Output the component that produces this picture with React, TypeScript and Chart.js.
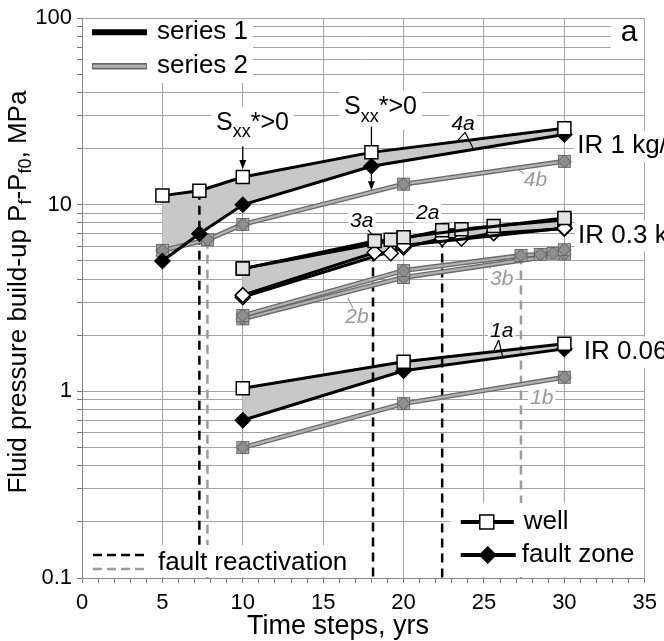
import React, { useEffect, useRef } from 'react';
import { Chart, registerables } from 'chart.js';

Chart.register(...registerables);

const FONT = '"Liberation Sans", Arial, Helvetica, sans-serif';
const font = (size: number, style = '') => `${style} ${size}px ${FONT}`.trim();

// ---------- axes ----------
const X_MIN = 0;
const X_MAX = 35;
const X_TICKS = [0, 1, 2, 3, 4, 5, 6, 7, 8, 9, 10, 11, 12, 13, 14, 15, 16, 17, 18, 19, 20, 21, 22, 23, 24, 25, 26, 27, 28, 29, 30, 31, 32, 33, 34, 35];
const X_TICK_LABELS = ['0', '5', '10', '15', '20', '25', '30', '35'];
const Y_MIN = 0.1;
const Y_MAX = 100;
const Y_TICKS = [0.1, 0.2, 0.3, 0.4, 0.5, 0.6, 0.7, 0.8, 0.9, 1, 2, 3, 4, 5, 6, 7, 8, 9, 10, 20, 30, 40, 50, 60, 70, 80, 90, 100];
const Y_TICK_LABELS = ['0.1', '1', '10', '100'];
const X_TITLE = 'Time steps, yrs';

// ---------- data: IR 1 kg/s ----------
const T_4A_WELL = [5, 7.3, 10, 18, 30];
const P_4A_WELL = [11.2, 11.9, 14.1, 19.1, 25.7];
const T_4A_FAULT = [5, 7.3, 10, 18, 30];
const P_4A_FAULT = [5.0, 7.0, 10.0, 16.1, 23.8];
const T_4B = [5, 7.8, 10, 20, 30];
const P_4B = [5.7, 6.5, 7.85, 12.9, 17.1];

// ---------- data: IR 0.3 kg/s ----------
const T_3A = [10, 18.2, 19.2, 20, 30];
const P_3A_WELL = [4.55, 6.4, 6.5, 6.7, 8.5];
const P_3A_FAULT = [3.28, 5.55, 5.5, 6.05, 7.5];
const T_2A = [10, 20, 22.4, 23.6, 25.6, 30];
const P_2A_WELL = [4.55, 6.6, 7.3, 7.4, 7.7, 8.3];
const P_2A_FAULT = [3.2, 5.9, 6.6, 6.6, 7.05, 7.45];
const T_3B = [10, 20, 27.3, 28.5, 29.3, 30];
const P_3B = [2.55, 4.44, 5.35, 5.42, 5.5, 5.75];
const T_2B = [10, 20, 30];
const P_2B = [2.45, 4.08, 5.45];

// ---------- data: IR 0.06 kg/s ----------
const T_1 = [10, 20, 30];
const P_1A_WELL = [1.04, 1.44, 1.8];
const P_1A_FAULT = [0.7, 1.29, 1.69];
const P_1B = [0.5, 0.86, 1.19];

// ---------- fault reactivation (time, value where the line starts) ----------
const REACT_BLACK_T = [7.3, 18.1, 22.4];
const REACT_BLACK_P = [11.9, 5.55, 6.6];
const REACT_GRAY_T = [7.8, 27.3];
const REACT_GRAY_P = [6.5, 5.35];

// ---------- annotation texts ----------
const CURVE_LABELS = ['4a', '4b', '3a', '2a', '3b', '2b', '1a', '1b'];
const IR_LABELS = ['IR 1 kg/s', 'IR 0.3 kg/s', 'IR 0.06 kg/s'];
const LEGEND_SERIES = ['series 1', 'series 2'];
const LEGEND_MARKERS = ['well', 'fault zone'];
const LEGEND_REACT = 'fault reactivation';
const PANEL = 'a';

// annotation anchors in data coordinates (t, value)
const CURVE_LABEL_AT = [
  [23.7, 27.0], [28.2, 13.6], [17.4, 8.2], [21.5, 9.07],
  [26.1, 3.99], [17.1, 2.5], [26.1, 2.11], [28.6, 0.918],
];
const CURVE_LABEL_GRAY = [false, true, false, false, true, true, false, true];
// leader strokes, pixel offsets from label centre
const CURVE_LEADERS: number[][][] = [
  [[2, 8, -6, 17], [2, 8, 10, 24]],
  [[-11, -6, -18, -11]],
  [[6, 9, 13, 16]],
  [[9, 12, 15, 18]],
  [[-11, -11, -16, -17]],
  [[-4, -9, -9, -19]],
  [[-3, 9, -8, 20], [-3, 9, 1, 26]],
  [],
];
const IR_AT = [[30.8, 20.6], [30.85, 6.84], [31.2, 1.63]];
const SXX_AT = [[10.6, 27.3], [18.56, 33.2]];
const SXX_ARROW_T = [10, 18];

const GRID = '#a3a3a3';
const FILL = '#c8c8c8';
const S2_DARK = '#6b6b6b';
const S2_LIGHT = '#b3b3b3';

const pts = (t: number[], p: number[]) => t.map((x, i) => ({ x, y: p[i] }));

function makeS2Marker() {
  const c = document.createElement('canvas');
  c.width = 15;
  c.height = 15;
  const g = c.getContext('2d')!;
  g.fillStyle = '#a8a8a8';
  g.strokeStyle = '#6a6a6a';
  g.lineWidth = 1;
  g.fillRect(1.5, 1.5, 12, 12);
  g.strokeRect(1.5, 1.5, 12, 12);
  g.beginPath();
  g.moveTo(7.5, 1);
  g.lineTo(14, 7.5);
  g.lineTo(7.5, 14);
  g.lineTo(1, 7.5);
  g.closePath();
  g.fillStyle = '#8f8f8f';
  g.fill();
  g.strokeStyle = '#555';
  g.stroke();
  return c;
}

function s1(t: number[], p: number[], style: string, bg: string, r: number) {
  return {
    data: pts(t, p),
    showLine: true,
    borderColor: '#000',
    borderWidth: 3,
    pointStyle: style,
    pointRadius: r,
    pointHoverRadius: r,
    pointBackgroundColor: bg,
    pointBorderColor: '#000',
    pointBorderWidth: 1.5,
    fill: false,
  };
}

function s2(t: number[], p: number[], marker: HTMLCanvasElement) {
  return {
    data: pts(t, p),
    showLine: true,
    borderColor: S2_LIGHT,
    borderWidth: 2.2,
    pointStyle: marker,
    pointRadius: 7,
    pointHoverRadius: 7,
    fill: false,
    outline: S2_DARK,
    outlineWidth: 5,
  };
}

function whiteBox(ctx: CanvasRenderingContext2D, x: number, y: number, w: number, h: number) {
  ctx.fillStyle = '#fff';
  ctx.fillRect(x, y, w, h);
}

function drawText(ctx: CanvasRenderingContext2D, s: string, x: number, y: number, f: string, color = '#000', align: CanvasTextAlign = 'left') {
  ctx.font = f;
  ctx.fillStyle = color;
  ctx.textAlign = align;
  ctx.textBaseline = 'middle';
  ctx.fillText(s, x, y);
}

function line(ctx: CanvasRenderingContext2D, x0: number, y0: number, x1: number, y1: number, color: string, w: number, dash: number[] = []) {
  ctx.save();
  ctx.strokeStyle = color;
  ctx.lineWidth = w;
  ctx.setLineDash(dash);
  ctx.beginPath();
  ctx.moveTo(x0, y0);
  ctx.lineTo(x1, y1);
  ctx.stroke();
  ctx.restore();
}

function square(ctx: CanvasRenderingContext2D, x: number, y: number, half: number, bg: string) {
  ctx.fillStyle = bg;
  ctx.fillRect(x - half, y - half, 2 * half, 2 * half);
  ctx.strokeStyle = '#000';
  ctx.lineWidth = 1.5;
  ctx.strokeRect(x - half, y - half, 2 * half, 2 * half);
}

function diamond(ctx: CanvasRenderingContext2D, x: number, y: number, r: number, bg: string) {
  ctx.beginPath();
  ctx.moveTo(x, y - r);
  ctx.lineTo(x + r, y);
  ctx.lineTo(x, y + r);
  ctx.lineTo(x - r, y);
  ctx.closePath();
  ctx.fillStyle = bg;
  ctx.fill();
  ctx.strokeStyle = '#000';
  ctx.lineWidth = 1.5;
  ctx.stroke();
}

function drawSxx(ctx: CanvasRenderingContext2D, cx: number, cy: number) {
  const big = font(25);
  const small = font(18);
  ctx.font = big;
  const wS = ctx.measureText('S').width;
  const wR = ctx.measureText('*>0').width;
  ctx.font = small;
  const wX = ctx.measureText('xx').width;
  const total = wS + wX + wR;
  whiteBox(ctx, cx - total / 2 - 5, cy - 17, total + 10, 39);
  let x = cx - total / 2;
  drawText(ctx, 'S', x, cy, big);
  x += wS;
  drawText(ctx, 'xx', x, cy + 9, small);
  x += wX;
  drawText(ctx, '*>0', x, cy, big);
}

function arrowDown(ctx: CanvasRenderingContext2D, x: number, y0: number, y1: number) {
  line(ctx, x, y0, x, y1 - 7, '#000', 1.3);
  ctx.beginPath();
  ctx.moveTo(x - 3.5, y1 - 9);
  ctx.lineTo(x + 3.5, y1 - 9);
  ctx.lineTo(x, y1);
  ctx.closePath();
  ctx.fillStyle = '#000';
  ctx.fill();
}

const FILL_PAIRS = [[0, 1], [2, 3], [4, 5], [6, 7]];

const overlay = {
  id: 'overlay',
  beforeDraw(chart: any) {
    const { ctx, width, height } = chart;
    ctx.save();
    ctx.fillStyle = '#fff';
    ctx.fillRect(0, 0, width, height);
    ctx.restore();
  },
  beforeDatasetsDraw(chart: any) {
    const { ctx, chartArea: ca, scales } = chart;
    const X = (t: number) => scales.x.getPixelForValue(t);
    const Y = (p: number) => scales.y.getPixelForValue(p);
    ctx.save();

    // gray bands between well and fault-zone curves
    FILL_PAIRS.forEach(([a, b]) => {
      const A = chart.getDatasetMeta(a).data;
      const B = chart.getDatasetMeta(b).data;
      ctx.beginPath();
      A.forEach((e: any, i: number) => (i ? ctx.lineTo(e.x, e.y) : ctx.moveTo(e.x, e.y)));
      for (let i = B.length - 1; i >= 0; i--) ctx.lineTo(B[i].x, B[i].y);
      ctx.closePath();
      ctx.fillStyle = FILL;
      ctx.fill();
    });

    // fault reactivation lines
    REACT_BLACK_T.forEach((t, i) => line(ctx, X(t), Y(REACT_BLACK_P[i]), X(t), ca.bottom, '#000', 2.5, [9, 6]));
    REACT_GRAY_T.forEach((t, i) => line(ctx, X(t), Y(REACT_GRAY_P[i]), X(t), ca.bottom, '#9c9c9c', 2.5, [9, 6]));

    // ---- legend: series 1 / series 2 (top-left)
    whiteBox(ctx, ca.left + 1, ca.top + 1, 170, 64);
    line(ctx, ca.left + 10, ca.top + 14, ca.left + 65, ca.top + 14, '#000', 6);
    line(ctx, ca.left + 10, ca.top + 48, ca.left + 65, ca.top + 48, S2_DARK, 6.5);
    line(ctx, ca.left + 11, ca.top + 48, ca.left + 64, ca.top + 48, S2_LIGHT, 3);
    drawText(ctx, LEGEND_SERIES[0], ca.left + 75, ca.top + 14, font(26));
    drawText(ctx, LEGEND_SERIES[1], ca.left + 75, ca.top + 48, font(26));

    // ---- panel letter
    whiteBox(ctx, ca.right - 34, ca.top + 1, 33, 35);
    drawText(ctx, PANEL, ca.right - 24, ca.top + 15, font(30));

    // ---- legend: fault reactivation (bottom-left)
    whiteBox(ctx, ca.left + 1, ca.bottom - 33, 282, 32);
    line(ctx, ca.left + 11, ca.bottom - 23, ca.left + 63, ca.bottom - 23, '#000', 2.5, [9, 5]);
    line(ctx, ca.left + 11, ca.bottom - 9, ca.left + 63, ca.bottom - 9, '#9c9c9c', 2.5, [9, 5]);
    drawText(ctx, LEGEND_REACT, ca.left + 76, ca.bottom - 15, font(26));

    // ---- legend: well / fault zone (bottom-right)
    whiteBox(ctx, ca.right - 194, ca.bottom - 75, 193, 74);
    const lx = ca.right - 184;
    line(ctx, lx, ca.bottom - 56, lx + 53, ca.bottom - 56, '#000', 4);
    square(ctx, lx + 26, ca.bottom - 56, 7, '#fff');
    line(ctx, lx, ca.bottom - 23, lx + 55, ca.bottom - 23, '#000', 4);
    diamond(ctx, lx + 27, ca.bottom - 23, 8, '#000');
    drawText(ctx, LEGEND_MARKERS[0], lx + 63, ca.bottom - 56, font(26));
    drawText(ctx, LEGEND_MARKERS[1], lx + 61, ca.bottom - 23, font(26));

    // ---- IR labels
    IR_AT.forEach(([t, p], i) => {
      const x = X(t);
      const y = Y(p);
      ctx.font = font(26);
      const w = ctx.measureText(IR_LABELS[i]).width;
      whiteBox(ctx, x - 3, y - 15, w + 6, 31);
      drawText(ctx, IR_LABELS[i], x, y, font(26));
    });

    // ---- curve labels
    CURVE_LABELS.forEach((s, i) => {
      const [t, p] = CURVE_LABEL_AT[i];
      const x = X(t);
      const y = Y(p);
      const col = CURVE_LABEL_GRAY[i] ? '#9a9a9a' : '#000';
      const f = font(21, 'italic');
      ctx.font = f;
      const w = ctx.measureText(s).width;
      whiteBox(ctx, x - w / 2 - 2, y - 10, w + 4, 20);
      drawText(ctx, s, x, y, f, col, 'center');
      CURVE_LEADERS[i].forEach(([a, b, c, d]) => line(ctx, x + a, y + b, x + c, y + d, col, 1.2));
    });

    // ---- Sxx*>0 labels and arrows
    const sx0 = X(SXX_AT[0][0]);
    const sy0 = Y(SXX_AT[0][1]);
    drawSxx(ctx, sx0, sy0);
    arrowDown(ctx, X(SXX_ARROW_T[0]), sy0 + 23, Y(P_4A_WELL[2]) - 8);
    const sx1 = X(SXX_AT[1][0]);
    const sy1 = Y(SXX_AT[1][1]);
    drawSxx(ctx, sx1, sy1);
    arrowDown(ctx, X(SXX_ARROW_T[1]), sy1 + 19, Y(P_4A_FAULT[3]) + 24);

    // ---- axis titles
    drawText(ctx, X_TITLE, 338, 627, font(27), '#000', 'center');
    ctx.save();
    ctx.translate(19, (ca.top + ca.bottom) / 2 - 6);
    ctx.rotate(-Math.PI / 2);
    const parts: [string, number, number][] = [
      ['Fluid pressure build-up P', 26, 0],
      ['f', 18, 7],
      ['-P', 26, 0],
      ['f0', 18, 7],
      [', MPa', 26, 0],
    ];
    let total = 0;
    parts.forEach(([s, sz]) => {
      ctx.font = font(sz);
      total += ctx.measureText(s).width;
    });
    let px = -total / 2;
    parts.forEach(([s, sz, off]) => {
      ctx.font = font(sz);
      drawText(ctx, s, px, off, font(sz));
      px += ctx.measureText(s).width;
    });
    ctx.restore();

    ctx.restore();
  },
  beforeDatasetDraw(chart: any, args: any) {
    const ds = chart.data.datasets[args.index];
    if (!ds.outline) return;
    const { ctx, chartArea: ca } = chart;
    const P = args.meta.data;
    ctx.save();
    ctx.beginPath();
    ctx.rect(ca.left, ca.top, ca.right - ca.left, ca.bottom - ca.top);
    ctx.clip();
    ctx.beginPath();
    P.forEach((e: any, i: number) => (i ? ctx.lineTo(e.x, e.y) : ctx.moveTo(e.x, e.y)));
    ctx.strokeStyle = ds.outline;
    ctx.lineWidth = ds.outlineWidth;
    ctx.lineJoin = 'round';
    ctx.stroke();
    ctx.restore();
  },
};

export default function App() {
  const ref = useRef<HTMLCanvasElement>(null);
  useEffect(() => {
    if (!ref.current) return;
    const m = makeS2Marker();
    const datasets: any[] = [
      s1(T_4A_WELL, P_4A_WELL, 'rect', '#fff', 9.2),
      s1(T_4A_FAULT, P_4A_FAULT, 'rectRot', '#000', 7.5),
      s1(T_3A, P_3A_WELL, 'rect', '#e3e3e3', 9.2),
      s1(T_3A, P_3A_FAULT, 'rectRot', '#fff', 7.5),
      s1(T_2A, P_2A_WELL, 'rect', '#e3e3e3', 9.2),
      s1(T_2A, P_2A_FAULT, 'rectRot', '#fff', 7.5),
      s1(T_1, P_1A_WELL, 'rect', '#fff', 9.2),
      s1(T_1, P_1A_FAULT, 'rectRot', '#000', 7.5),
      s2(T_4B, P_4B, m),
      s2(T_3B, P_3B, m),
      s2(T_2B, P_2B, m),
      s2(T_1, P_1B, m),
    ];
    const chart = new Chart(ref.current, {
      type: 'scatter',
      data: { datasets },
      options: {
        animation: false,
        responsive: false,
        events: [],
        layout: { padding: { top: 14, right: 18, left: 0, bottom: 0 } },
        plugins: { legend: { display: false }, tooltip: { enabled: false } },
        scales: {
          x: {
            type: 'linear',
            min: X_MIN,
            max: X_MAX,
            afterBuildTicks: (s: any) => {
              s.ticks = X_TICKS.map((v) => ({ value: v }));
            },
            afterFit: (s: any) => {
              s.height = 63;
            },
            ticks: {
              autoSkip: false,
              maxRotation: 0,
              padding: 7,
              color: '#000',
              font: { size: 22, family: FONT },
              callback: (v: any) => (X_TICK_LABELS.includes(String(v)) ? String(v) : ''),
            },
            grid: {
              color: (c: any) => (c.tick && X_TICK_LABELS.includes(String(c.tick.value)) ? GRID : 'rgba(0,0,0,0)'),
              tickColor: '#777',
              tickLength: 5,
              lineWidth: 1,
            },
            border: { color: '#888', width: 1 },
          },
          y: {
            type: 'logarithmic',
            min: Y_MIN,
            max: Y_MAX,
            afterBuildTicks: (s: any) => {
              s.ticks = Y_TICKS.map((v) => ({ value: v }));
            },
            afterFit: (s: any) => {
              s.width = 82;
            },
            ticks: {
              autoSkip: false,
              padding: 5,
              color: '#000',
              font: { size: 22, family: FONT },
              callback: (v: any) => (Y_TICK_LABELS.includes(String(v)) ? String(v) : ''),
            },
            grid: { color: GRID, tickColor: '#777', tickLength: 5, lineWidth: 1 },
            border: { color: '#888', width: 1 },
          },
        },
      },
      plugins: [overlay],
    } as any);
    return () => chart.destroy();
  }, []);
  return (
    <div style={{ position: 'fixed', left: 0, top: 0, width: 664, height: 641, background: '#fff' }}>
      <canvas ref={ref} width={664} height={641} style={{ display: 'block', width: 664, height: 641 }} />
    </div>
  );
}
